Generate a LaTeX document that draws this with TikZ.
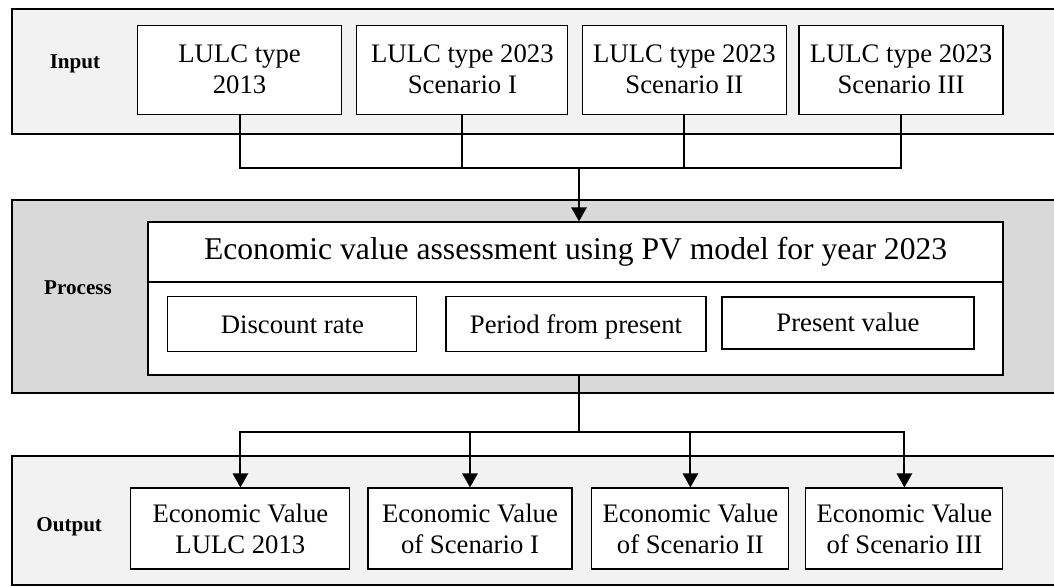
\documentclass[tikz,border=0pt]{standalone}
\usepackage{fontspec}
\setmainfont{Liberation Serif}
\usepackage{xcolor}
\usetikzlibrary{positioning,arrows.meta,calc}
\definecolor{panelpale}{HTML}{f2f2f2}
\definecolor{paneldark}{HTML}{d9d9d9}
\newcommand{\boxfont}{\fontsize{19}{22}\selectfont}

\begin{document}
\begin{tikzpicture}[x=1cm,y=1cm,>={Triangle[length=3.5mm,width=3.8mm]},
  panel/.style={draw=black,line width=1.1pt},
  card/.style={draw=black,fill=white,line width=0.8pt,align=center,inner sep=0pt,
    minimum width=5.1cm,minimum height=2.225cm,font=\boxfont},
  outcard/.style={card,minimum height=2.025cm},
  subcard/.style={card,minimum height=1.375cm,text height=15pt,text depth=2.5pt},
  lab/.style={font=\fontsize{15}{17}\selectfont\bfseries},
  conn/.style={line width=1.5pt}]
  \useasboundingbox (0,0) rectangle (26.35,14.65);
  % panels
  \draw[panel,fill=panelpale] (0.3,11.3) rectangle (26.6,14.425);
  \draw[panel,fill=paneldark] (0.3,4.825) rectangle (26.6,9.65);
  \draw[panel,fill=panelpale] (0.3,0.03) rectangle (26.6,3.25);
  \node[lab] (inlab) at (1.875,13.05) {Input};
  \node[lab] (prlab) at (1.95,7.45) {Process};
  \node[lab] (oulab) at (1.73,1.475) {Output};
  % input boxes
  \node[card] (lt13) at (5.99,12.91) {LULC type\\2013};
  \node[card,minimum width=5.275cm] (lts1) at (11.56,12.91) {LULC type 2023\\Scenario I};
  \node[card] (lts2) at (17.11,12.91) {LULC type 2023\\Scenario II};
  \node[card] (lts3) at (22.525,12.91) {LULC type 2023\\Scenario III};
  % process
  \node[card,minimum width=21.375cm,minimum height=3.825cm] (pvm) at (14.3875,7.1875) {};
  \node[font=\fontsize{22.5}{26}\selectfont] (ttl) at (14.39,8.35) {Economic value assessment using PV model for year 2023};
  \draw[line width=0.8pt] (pvm.west |- 0,7.6) -- (pvm.east |- 0,7.6);
  \node[subcard,minimum width=6.225cm] (dr) at (7.31,6.54) {Discount rate};
  \node[subcard,minimum width=6.5cm] (pp) at (14.4,6.54) {Period from present};
  \node[subcard,minimum width=6.3cm,minimum height=1.3cm] (pv) at (21.2,6.575) {Present value};
  % output boxes
  \node[outcard,minimum width=5.475cm] (ev13) at (6.01,1.4375) {Economic Value\\LULC 2013};
  \node[outcard] (evs1) at (11.75,1.4375) {Economic Value\\of Scenario I};
  \node[outcard,minimum width=4.925cm] (evs2) at (17.26,1.4375) {Economic Value\\of Scenario II};
  \node[outcard,minimum width=4.925cm] (evs3) at (22.61,1.4375) {Economic Value\\of Scenario III};
  % input -> process
  \coordinate (jin) at (14.475,10.45);
  \foreach \b in {lt13,lts1,lts2,lts3}{\draw[conn] (\b.south) |- (jin);}
  \draw[conn,->] (jin) -- (jin |- pvm.north);
  % process -> outputs
  \coordinate (jout) at (14.475,3.85);
  \draw[conn] (jin |- pvm.south) -- (jout);
  \foreach \b in {ev13,evs1,evs2,evs3}{\draw[conn,->] (jout) -| (\b.north);}
\end{tikzpicture}
\end{document}
